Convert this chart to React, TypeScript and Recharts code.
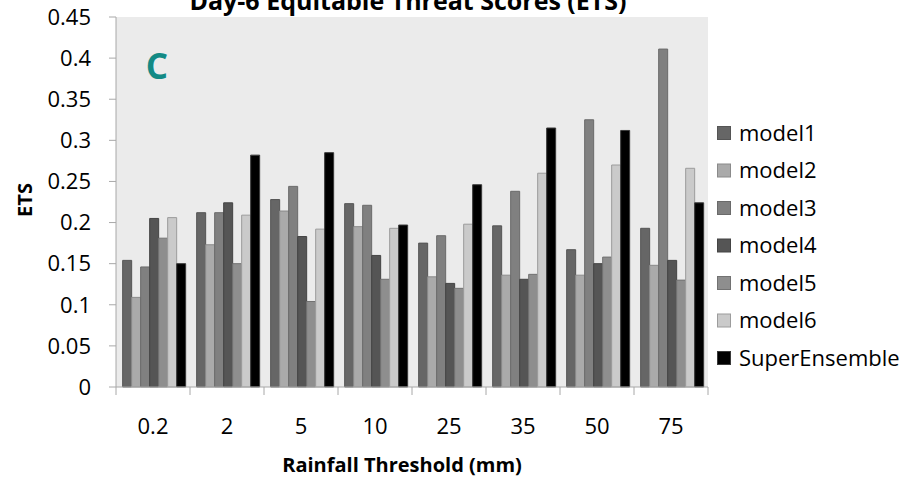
import React from 'react';
import { BarChart, Bar, XAxis, YAxis, CartesianGrid } from 'recharts';

// Rainfall thresholds (mm) along the x axis
const thresholds = ['0.2', '2', '5', '10', '25', '35', '50', '75'];

// Day-6 ETS per model at each threshold
const model1 = [0.154, 0.212, 0.228, 0.223, 0.175, 0.196, 0.167, 0.193];
const model2 = [0.109, 0.173, 0.214, 0.195, 0.134, 0.136, 0.136, 0.148];
const model3 = [0.146, 0.212, 0.244, 0.221, 0.184, 0.238, 0.325, 0.411];
const model4 = [0.205, 0.224, 0.183, 0.160, 0.126, 0.131, 0.150, 0.154];
const model5 = [0.181, 0.150, 0.104, 0.131, 0.120, 0.137, 0.158, 0.130];
const model6 = [0.206, 0.209, 0.192, 0.193, 0.198, 0.260, 0.270, 0.266];
const superEnsemble = [0.150, 0.282, 0.285, 0.197, 0.246, 0.315, 0.312, 0.224];

const yTicks = [0, 0.05, 0.1, 0.15, 0.2, 0.25, 0.3, 0.35, 0.4, 0.45];

const seriesNames = ['model1', 'model2', 'model3', 'model4', 'model5', 'model6', 'SuperEnsemble'];
const seriesValues = [model1, model2, model3, model4, model5, model6, superEnsemble];
const fills = ['#666666', '#aaaaaa', '#808080', '#555555', '#8e8e8e', '#cacaca', '#000000'];
const strokes = ['#555555', '#8a8a8a', '#6a6a6a', '#444444', '#727272', '#9c9c9c', '#3a3a3a'];

const data = thresholds.map((t, i) => {
  const row: Record<string, string | number> = { threshold: t };
  seriesNames.forEach((name, s) => {
    row[name] = seriesValues[s][i];
  });
  return row;
});

const FONT = "'Open Sans', sans-serif";
const AXIS_COLOR = '#a8a8a8';
const X_TICK_SIZE = 8;
const X_TICK_MARGIN = 23;

// Category label centred in its band, with tick marks on the band edges
const XTick = (props: any) => {
  const { x, y, payload, index } = props;
  const half = payload && payload.offset ? payload.offset : 37;
  const axisY = y - X_TICK_SIZE - X_TICK_MARGIN;
  return (
    <g>
      <line x1={x - half} x2={x - half} y1={axisY} y2={axisY + X_TICK_SIZE} stroke={AXIS_COLOR} />
      {index === thresholds.length - 1 && (
        <line x1={x + half} x2={x + half} y1={axisY} y2={axisY + X_TICK_SIZE} stroke={AXIS_COLOR} />
      )}
      <text x={x} y={y} dy="0.71em" textAnchor="middle" fill="#000" fontSize={22} fontFamily={FONT}>
        {payload.value}
      </text>
    </g>
  );
};

export default function App() {
  return (
    <div style={{ position: 'absolute', left: 0, top: 0, width: 905, height: 479, background: '#fff' }}>
      <BarChart
        width={905}
        height={479}
        data={data}
        margin={{ top: 17, right: 197, left: 0, bottom: 0 }}
        barCategoryGap="9%"
        barGap={0}
      >
        <CartesianGrid horizontal={false} vertical={false} fill="#ebebeb" />
        <XAxis
          dataKey="threshold"
          height={92}
          stroke={AXIS_COLOR}
          tickLine={false}
          tickSize={X_TICK_SIZE}
          tickMargin={X_TICK_MARGIN}
          tick={<XTick />}
          interval={0}
        />
        <YAxis
          width={116}
          domain={[0, 0.45]}
          ticks={yTicks}
          interval={0}
          stroke={AXIS_COLOR}
          tickSize={7}
          tickMargin={18}
          tick={{ fill: '#000', fontSize: 22, fontFamily: FONT }}
        />
        {seriesNames.map((name, s) => (
          <Bar
            key={name}
            dataKey={name}
            fill={fills[s]}
            stroke={strokes[s]}
            strokeWidth={1}
            isAnimationActive={false}
          />
        ))}
      </BarChart>
      <svg
        width={905}
        height={479}
        style={{ position: 'absolute', left: 0, top: 0, pointerEvents: 'none' }}
        fontFamily={FONT}
      >
        <text x={408} y={10} textAnchor="middle" fontSize={25} fontWeight="bold" fill="#000">
          Day-6 Equitable Threat Scores (ETS)
        </text>
        <text x={157} y={79} textAnchor="middle" fontSize={35} fontWeight="bold" fill="#138a85">
          C
        </text>
        <text
          x={0}
          y={0}
          transform="translate(32 200) rotate(-90)"
          textAnchor="middle"
          fontSize={20}
          fontWeight="bold"
          fill="#000"
        >
          ETS
        </text>
        <text x={402} y={472} textAnchor="middle" fontSize={20} fontWeight="bold" fill="#000">
          Rainfall Threshold (mm)
        </text>
        {seriesNames.map((name, s) => {
          const cy = 133 + s * 37.5;
          return (
            <g key={name}>
              <rect x={717.5} y={cy - 6.5} width={13} height={13} fill={fills[s]} stroke={strokes[s]} />
              <text x={739} y={cy} dy="0.36em" fontSize={22} fill="#000">
                {name}
              </text>
            </g>
          );
        })}
      </svg>
    </div>
  );
}
